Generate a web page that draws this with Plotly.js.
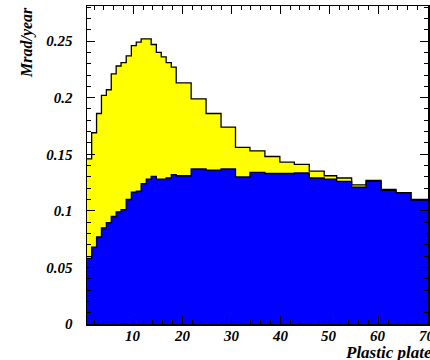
<!DOCTYPE html>
<html>
<head>
<meta charset="utf-8">
<script src="https://cdn.plot.ly/plotly-3.0.1.min.js"></script>
<style>html,body{margin:0;padding:0;background:#fff;}#chart{width:430px;height:360px;}</style>
</head>
<body>
<div id="chart"></div>
<script>
// Bin edges (plastic plate number axis)
const binEdges = [0.5, 1.5, 2.5, 3.5, 4.5, 5.5, 6.5, 7.5, 8.55, 9.6, 10.6, 11.6, 12.65, 13.65, 14.7, 15.7, 16.7, 17.75, 18.75,
  21.8, 24.85, 27.9, 30.85, 33.8, 36.85, 39.9, 42.85, 45.9, 48.95, 51.5, 54.55, 57.5, 60.55, 63.6, 66.65, 70.5];
// Stacked total (top of yellow) in Mrad/year
const totalValues = [0.146, 0.169, 0.186, 0.202, 0.207, 0.221, 0.228, 0.231, 0.237, 0.246, 0.249, 0.252, 0.252, 0.247, 0.240, 0.236, 0.231, 0.227,
  0.213, 0.199, 0.186, 0.174, 0.156, 0.153, 0.148, 0.143, 0.141, 0.135, 0.131, 0.129, 0.123, 0.127, 0.119, 0.116, 0.110];
// Blue component in Mrad/year
const blueValues = [0.058, 0.068, 0.077, 0.085, 0.0895, 0.095, 0.099, 0.101, 0.110, 0.1166, 0.1175, 0.124, 0.128, 0.1305, 0.128, 0.128, 0.129, 0.132,
  0.131, 0.137, 0.136, 0.137, 0.130, 0.134, 0.133, 0.133, 0.1335, 0.129, 0.128, 0.126, 0.121, 0.126, 0.118, 0.116, 0.1095];
// x tick labels
const xTickVals = [10, 20, 30, 40, 50, 60, 70];
const xTickText = ["10", "20", "30", "40", "50", "60", "70"];
const xTitle = "Plastic plate";
const yTitle = "Mrad/year";

function stepY(vals) { return vals.concat([vals[vals.length - 1]]); }

const fontFam = "Liberation Serif, Times New Roman, serif";
const traces = [
  { x: binEdges, y: stepY(totalValues), type: 'scatter', mode: 'lines', line: { shape: 'hv', color: '#000', width: 1.3 },
    fill: 'tozeroy', fillcolor: '#ffff00', hoverinfo: 'skip', showlegend: false },
  { x: binEdges, y: stepY(blueValues), type: 'scatter', mode: 'lines', line: { shape: 'hv', color: '#000', width: 1.3 },
    fill: 'tozeroy', fillcolor: '#0000ff', hoverinfo: 'skip', showlegend: false }
];
const tickFont = { family: fontFam, size: 15, color: '#000', weight: 'bold', style: 'italic' };
const labelAnnots = xTickVals.map((v, i) => ({
  text: xTickText[i], xref: 'x', yref: 'paper', x: v, y: (324 - 336) / 318, xanchor: 'center', yanchor: 'middle',
  showarrow: false, font: tickFont
}));
const layout = {
  width: 430, height: 360,
  margin: { l: 87, r: 2, t: 6, b: 36, pad: 0 },
  paper_bgcolor: '#fff', plot_bgcolor: '#fff',
  showlegend: false,
  xaxis: {
    range: [0.55, 70.13], tickmode: 'linear', tick0: 0, dtick: 10,
    ticks: 'inside', ticklen: 8, tickwidth: 1, tickcolor: '#000',
    minor: { dtick: 2, tick0: 0, ticks: 'inside', ticklen: 4, tickwidth: 1, tickcolor: '#000' },
    showline: true, linecolor: '#000', linewidth: 1.5, mirror: 'allticks',
    showgrid: false, zeroline: false, showticklabels: false
  },
  yaxis: {
    range: [0, 0.281], tickmode: 'linear', tick0: 0, dtick: 0.05,
    ticks: 'inside', ticklen: 8, tickwidth: 1, tickcolor: '#000',
    minor: { dtick: 0.01, tick0: 0, ticks: 'inside', ticklen: 4, tickwidth: 1, tickcolor: '#000' },
    showline: true, linecolor: '#000', linewidth: 1.5, mirror: 'allticks',
    showgrid: false, zeroline: false, tickfont: tickFont, ticklabelstandoff: 10
  },
  annotations: labelAnnots.concat([
    { text: yTitle, xref: 'paper', yref: 'paper', x: (27 - 87) / 341, y: (324 - 43) / 318, xanchor: 'center', yanchor: 'middle',
      textangle: -90, showarrow: false, font: { family: fontFam, size: 16, color: '#000', weight: 'bold', style: 'italic' } },
    { text: xTitle, xref: 'paper', yref: 'paper', x: (343 - 87) / 341, y: (324 - 352) / 318, xanchor: 'left', yanchor: 'middle',
      showarrow: false, font: { family: fontFam, size: 17, color: '#000', weight: 'bold', style: 'italic' } }
  ])
};
Plotly.newPlot('chart', traces, layout, { displayModeBar: false, staticPlot: true });
</script>
</body>
</html>
